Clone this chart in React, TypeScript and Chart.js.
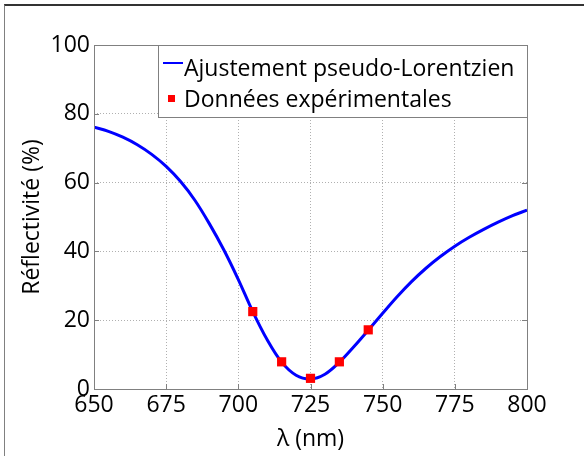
import { useEffect, useRef } from "react";
import { Chart, registerables } from "chart.js";

Chart.register(...registerables);

// ---- data ----
const curveWavelengths = [650, 655, 660, 665, 670, 675, 680, 685, 690, 695, 700, 705, 710, 715, 720, 725, 730, 735, 740, 745, 750, 755, 760, 765, 770, 775, 780, 785, 790, 795, 800];
const curveReflectivity = [76.1, 74.9, 73.2, 71.0, 68.2, 64.7, 60.3, 54.8, 48.0, 40.4, 31.8, 22.5, 14.3, 7.8, 4.0, 2.9, 4.3, 7.8, 12.3, 17.1, 22.0, 26.8, 31.2, 35.1, 38.5, 41.5, 44.1, 46.4, 48.5, 50.4, 52.0];
const expWavelengths = [705, 715, 725, 735, 745];
const expReflectivity = [22.5, 7.9, 3.1, 7.9, 17.2];
const xTickValues = [650, 675, 700, 725, 750, 775, 800];
const yTickValues = [0, 20, 40, 60, 80, 100];
const seriesLabels = ["Ajustement pseudo-Lorentzien", "Données expérimentales"];
const xAxisTitle = "λ (nm)";
const yAxisTitle = "Réflectivité (%)";

const FONT = "'Open Sans', sans-serif";
const FONT_SIZE = 23;
const LINE_COLOR = "#0000ff";
const POINT_COLOR = "#ff0000";
const AXIS_COLOR = "#808080";

const boxPlugin = {
  id: "matlabBox",
  afterDraw(chart: any) {
    const { ctx, chartArea: ca } = chart;
    const xs = chart.scales.x;
    const ys = chart.scales.y;
    ctx.save();
    // inner tick marks
    ctx.strokeStyle = AXIS_COLOR;
    ctx.lineWidth = 1;
    ctx.beginPath();
    const tl = 5;
    xTickValues.forEach((v) => {
      const px = Math.round(xs.getPixelForValue(v)) + 0.5;
      ctx.moveTo(px, ca.bottom);
      ctx.lineTo(px, ca.bottom - tl);
      ctx.moveTo(px, ca.top);
      ctx.lineTo(px, ca.top + tl);
    });
    yTickValues.forEach((v) => {
      const py = Math.round(ys.getPixelForValue(v)) + 0.5;
      ctx.moveTo(ca.left, py);
      ctx.lineTo(ca.left + tl, py);
      ctx.moveTo(ca.right, py);
      ctx.lineTo(ca.right - tl, py);
    });
    ctx.stroke();
    // box
    ctx.strokeRect(Math.round(ca.left) + 0.5, Math.round(ca.top) + 0.5, Math.round(ca.right - ca.left), Math.round(ca.bottom - ca.top));

    // legend inside top-right
    const lw = 369;
    const lh = 72;
    const lx = Math.round(ca.right) - lw;
    const ly = Math.round(ca.top);
    ctx.fillStyle = "#ffffff";
    ctx.fillRect(lx, ly, lw, lh);
    ctx.strokeStyle = AXIS_COLOR;
    ctx.strokeRect(lx + 0.5, ly + 0.5, lw, lh);
    ctx.font = `${FONT_SIZE}px ${FONT}`;
    ctx.textBaseline = "alphabetic";
    ctx.textAlign = "left";
    // row 1: line sample
    ctx.strokeStyle = LINE_COLOR;
    ctx.lineWidth = 2;
    ctx.beginPath();
    ctx.moveTo(lx + 5, ly + 18);
    ctx.lineTo(lx + 25, ly + 18);
    ctx.stroke();
    ctx.fillStyle = "#000000";
    ctx.fillText(seriesLabels[0], lx + 26, ly + 31);
    // row 2: square marker
    ctx.fillStyle = POINT_COLOR;
    ctx.fillRect(lx + 10, ly + 50, 7, 7);
    ctx.fillStyle = "#000000";
    ctx.fillText(seriesLabels[1], lx + 26, ly + 62);
    ctx.restore();
  },
};

export default function App() {
  const canvasRef = useRef<HTMLCanvasElement | null>(null);

  useEffect(() => {
    document.body.style.margin = "0";
    const canvas = canvasRef.current;
    if (!canvas) return;
    const chart = new Chart(canvas, {
      type: "scatter",
      data: {
        datasets: [
          {
            label: seriesLabels[0],
            type: "line",
            data: curveWavelengths.map((x, i) => ({ x, y: curveReflectivity[i] })),
            borderColor: LINE_COLOR,
            backgroundColor: LINE_COLOR,
            borderWidth: 3,
            pointRadius: 0,
            showLine: true,
            tension: 0.35,
            fill: false,
            order: 2,
          } as any,
          {
            label: seriesLabels[1],
            data: expWavelengths.map((x, i) => ({ x, y: expReflectivity[i] })),
            pointStyle: "rect",
            pointRadius: 6.5,
            borderWidth: 0,
            backgroundColor: POINT_COLOR,
            borderColor: POINT_COLOR,
            showLine: false,
            order: 1,
          } as any,
        ],
      },
      options: {
        animation: false,
        responsive: false,
        devicePixelRatio: 1,
        layout: { padding: { top: 45, right: 57, left: 0, bottom: 0 } },
        plugins: {
          legend: { display: false },
          tooltip: { enabled: false },
        },
        scales: {
          x: {
            type: "linear",
            min: 650,
            max: 800,
            afterFit: (s: any) => {
              s.height = 67;
            },
            afterBuildTicks: (s: any) => {
              s.ticks = xTickValues.map((v) => ({ value: v }));
            },
            ticks: {
              color: "#000000",
              font: { family: FONT, size: FONT_SIZE },
              padding: 3,
              maxRotation: 0,
              autoSkip: false,
            },
            grid: {
              color: "#b0b0b0",
              lineWidth: 1,
              drawTicks: false,
            },
            border: { display: false, dash: [1, 2] },
            title: {
              display: true,
              text: xAxisTitle,
              color: "#000000",
              font: { family: FONT, size: FONT_SIZE },
              padding: { top: 0, bottom: 3 },
            },
          },
          y: {
            type: "linear",
            min: 0,
            max: 100,
            afterFit: (s: any) => {
              s.width = 94;
            },
            afterBuildTicks: (s: any) => {
              s.ticks = yTickValues.map((v) => ({ value: v }));
            },
            ticks: {
              color: "#000000",
              font: { family: FONT, size: FONT_SIZE },
              padding: 4,
              autoSkip: false,
            },
            grid: {
              color: "#b0b0b0",
              lineWidth: 1,
              drawTicks: false,
            },
            border: { display: false, dash: [1, 2] },
            title: {
              display: true,
              text: yAxisTitle,
              color: "#000000",
              font: { family: FONT, size: FONT_SIZE },
              padding: { top: 19, bottom: 0 },
            },
          },
        },
      },
      plugins: [boxPlugin],
    });
    return () => chart.destroy();
  }, []);

  return (
    <div style={{ position: "relative", width: 584, height: 456, background: "#ffffff", overflow: "hidden" }}>
      <canvas ref={canvasRef} width={584} height={456} style={{ display: "block" }} />
      <div
        style={{
          position: "absolute",
          left: 4,
          top: 4,
          right: -4,
          bottom: -4,
          borderTop: "2px solid #333333",
          borderLeft: "1px solid #808080",
          pointerEvents: "none",
        }}
      />
    </div>
  );
}
